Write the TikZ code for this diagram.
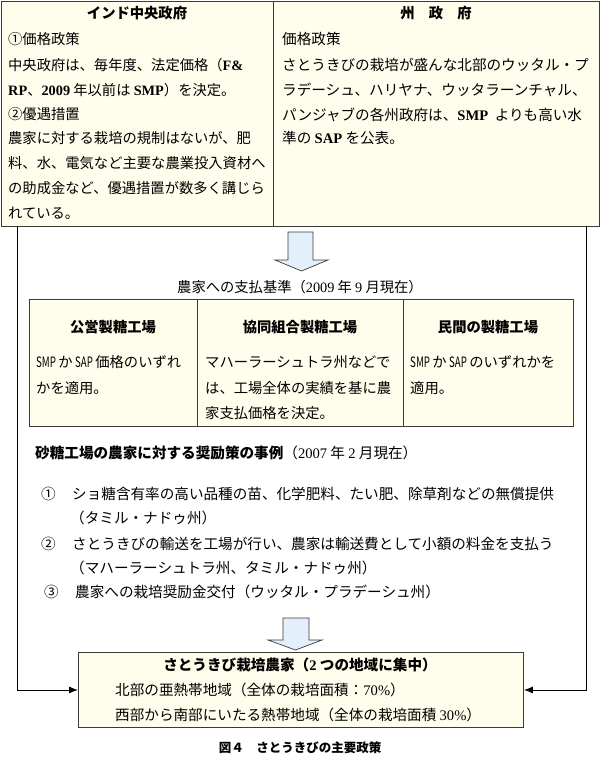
\documentclass[tikz,border=0pt]{standalone}
\usepackage{fontspec}
\setmainfont{Noto Sans CJK JP}
\newfontfamily\lat{Liberation Serif}
\usetikzlibrary{arrows.meta}
\definecolor{cream}{HTML}{FFFDEB}
\definecolor{ablue}{HTML}{E3EFFB}
\definecolor{ln}{HTML}{3A3A3A}
\newcommand{\LB}[1]{{\lat\bfseries #1}}
\newcommand{\LN}[1]{{\lat #1}}
\newcommand{\LC}[1]{\scalebox{0.68}[1]{#1}}
\begin{document}
\begin{tikzpicture}[x=1pt,y=-1pt,
  box/.style={draw=ln, fill=cream, line width=0.9pt, inner sep=0pt, anchor=north west},
  txt/.style={anchor=west, inner sep=0pt, font=\fontsize{14.3}{16}\selectfont},
  wtxt/.style={anchor=west, inner sep=0pt, font=\fontsize{14.6}{16}\selectfont},
  hd/.style={anchor=center, inner sep=0pt, font=\fontsize{14.3}{16}\selectfont\bfseries},
  conn/.style={draw=black, line width=0.9pt, -{Latex[length=9pt,width=7pt]}},
  barrow/.style={draw=ln, fill=ablue, line width=0.7pt, line join=miter}]
\useasboundingbox (0,0) rectangle (600,768);
% top box
\node[box, minimum width=598pt, minimum height=225pt] (gov) at (1,1) {};
\coordinate (dtop) at (273,1);
\coordinate (dbot) at (273,226);
\draw[draw=ln, line width=0.9pt] (dtop) -- (dbot);
\node[hd] (govt) at (137,13) {インド中央政府};
\node[hd] (statet) at (436,13) {州　政　府};
\node[txt] (g1) at (8,39) {①価格政策};
\node[txt] (g2) at (8,65) {中央政府は、毎年度、法定価格（\LB{F\&}};
\node[txt] (g3) at (8,90) {\LB{RP}、\LB{2009} 年以前は \LB{SMP}）を決定。};
\node[txt] (g4) at (8,114) {②優遇措置};
\node[txt] (g5) at (8,138) {農家に対する栽培の規制はないが、肥};
\node[txt] (g6) at (8,163) {料、水、電気など主要な農業投入資材へ};
\node[txt] (g7) at (8,188) {の助成金など、優遇措置が数多く講じら};
\node[txt] (g8) at (8,213) {れている。};
\node[wtxt] (s1) at (282,39) {価格政策};
\node[wtxt] (s2) at (282,65) {さとうきびの栽培が盛んな北部のウッタル・プ};
\node[wtxt] (s3) at (282,90) {ラデーシュ、ハリヤナ、ウッタラーンチャル、};
\node[wtxt] (s4) at (282,115) {パンジャブの各州政府は、\LB{SMP}\ \ よりも高い水};
\node[wtxt] (s5) at (282,138) {準の \LB{SAP} を公表。};
% arrow 1
\draw[barrow] (288,232) -- (313,232) -- (313,260) -- (328,260) -- (301.5,271) -- (275,260) -- (288,260) -- cycle;
\node[hd, font=\fontsize{14.3}{16}\selectfont] (paycap) at (300,287) {農家への支払基準（\LN{2009} 年 \LN{9} 月現在）};
% payment box
\node[box, minimum width=544pt, minimum height=127pt] (pay) at (29,299) {};
\coordinate (p1t) at (197,299);
\coordinate (p1b) at (197,426);
\coordinate (p2t) at (403,299);
\coordinate (p2b) at (403,426);
\draw[draw=ln, line width=0.9pt] (p1t) -- (p1b) (p2t) -- (p2b);
\node[hd] (c1h) at (113,327) {公営製糖工場};
\node[hd] (c2h) at (300,327) {協同組合製糖工場};
\node[hd] (c3h) at (488,327) {民間の製糖工場};
\node[txt] (c1a) at (36,362) {\LC{SMP}\,か\,\LC{SAP}\,価格のいずれ};
\node[txt] (c1b) at (36,388) {かを適用。};
\node[txt] (c2a) at (205,362) {マハーラーシュトラ州などで};
\node[txt] (c2b) at (205,388) {は、工場全体の実績を基に農};
\node[txt] (c2c) at (205,413) {家支払価格を決定。};
\node[txt] (c3a) at (410,362) {\LC{SMP}\,か\,\LC{SAP}\,のいずれかを};
\node[txt] (c3b) at (410,388) {適用。};
% incentives
\node[wtxt] (inc) at (35,453) {\textbf{砂糖工場の農家に対する奨励策の事例}（\LN{2007} 年 \LN{2} 月現在）};
\node[wtxt] (i1n) at (41,494) {①};
\node[wtxt] (i1) at (72,494) {ショ糖含有率の高い品種の苗、化学肥料、たい肥、除草剤などの無償提供};
\node[wtxt] (i1b) at (70,518) {（タミル・ナドゥ州）};
\node[wtxt] (i2n) at (41,544) {②};
\node[wtxt] (i2) at (72,544) {さとうきびの輸送を工場が行い、農家は輸送費として小額の料金を支払う};
\node[wtxt] (i2b) at (70,568) {（マハーラーシュトラ州、タミル・ナドゥ州）};
\node[wtxt] (i3n) at (44,592) {③};
\node[wtxt] (i3) at (75,592) {農家への栽培奨励金交付（ウッタル・プラデーシュ州）};
% arrow 2
\draw[barrow] (283,618) -- (309,618) -- (309,640) -- (322,640) -- (295.5,650) -- (268,640) -- (283,640) -- cycle;
% farmers box
\node[box, minimum width=445pt, minimum height=75pt] (farm) at (78,652) {};
\node[hd, font=\fontsize{14.6}{16}\selectfont\bfseries] (ft) at (300,665) {さとうきび栽培農家（\LB{2} つの地域に集中）};
\node[wtxt] (f1) at (115,690) {北部の亜熱帯地域（全体の栽培面積：\LN{70\%}）};
\node[wtxt] (f2) at (115,715) {西部から南部にいたる熱帯地域（全体の栽培面積 \LN{30\%}）};
% connectors
\coordinate (lstart) at (17,226);
\coordinate (rstart) at (586,226);
\draw[conn] (lstart) |- (farm.west);
\draw[conn] (rstart) |- (farm.east);
% caption
\node[hd, font=\fontsize{12.5}{14}\selectfont\bfseries] (cap) at (300,748) {図４　さとうきびの主要政策};
\end{tikzpicture}
\end{document}
